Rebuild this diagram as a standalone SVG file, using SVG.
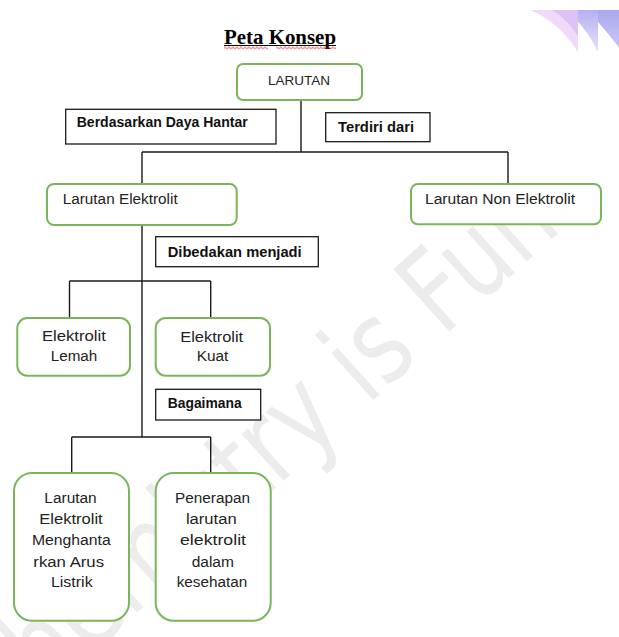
<svg xmlns="http://www.w3.org/2000/svg" width="619" height="637" viewBox="0 0 619 637">
  <style>
    .node { fill: #ffffff; stroke: #7ab55c; stroke-width: 2; }
    .label { fill: #ffffff; stroke: #1a1a1a; stroke-width: 1.3; }
    .wire { fill: none; stroke: #1a1a1a; stroke-width: 1.4; }
    .t { font-family: "Liberation Sans", Arial, sans-serif; font-size: 14px; fill: #222222; }
    .c { text-anchor: middle; }
    .b { font-weight: bold; fill: #111111; }
    .up { font-size: 13px; }
    .title { font-family: "Liberation Serif", "Times New Roman", serif; font-size: 20px; font-weight: bold; fill: #000000; }
    .mark { font-family: "DejaVu Sans", sans-serif; font-size: 115px; fill: #ececec; }
  </style>
  <defs>
    <pattern id="wave" patternUnits="userSpaceOnUse" x="0" y="45.5" width="4" height="4">
      <path d="M0,2.5 Q1,0.6 2,2.5 T4,2.5" fill="none" stroke="#e02020" stroke-width="0.9"/>
    </pattern>
    <linearGradient id="band2" x1="0" y1="0" x2="0" y2="1">
      <stop offset="0" stop-color="#b6b0f1"/>
      <stop offset="1" stop-color="#e6e2fb"/>
    </linearGradient>
    <linearGradient id="band3" x1="0" y1="0" x2="0" y2="1">
      <stop offset="0" stop-color="#aba8ef"/>
      <stop offset="1" stop-color="#c9c7f6"/>
    </linearGradient>
  </defs>

  <rect width="619" height="637" fill="#ffffff"/>

  <!-- background watermark -->
  <text class="mark" transform="translate(-1,737) rotate(-42)" textLength="760" lengthAdjust="spacingAndGlyphs">Chemistry is Fun</text>

  <!-- corner ornament -->
  <g id="corner">
    <path d="M530,10 L578,10 L578,52 C566,33 551,19 530,10 Z" fill="#f1d9f9"/>
    <path d="M552,10 L578,10 L578,36 C571,25 562,16 552,10 Z" fill="#dcc3f4"/>
    <path d="M578,10 L598,10 L598,52 C592,40 586,30 578,22 Z" fill="url(#band2)"/>
    <path d="M598,10 L619,10 L619,48 C612,38 605,30 598,22 Z" fill="url(#band3)"/>
  </g>

  <!-- title -->
  <g id="title">
    <text class="title" x="224" y="44" textLength="112" lengthAdjust="spacingAndGlyphs">Peta Konsep</text>
    <line x1="224" y1="45.5" x2="336" y2="45.5" stroke="#000000" stroke-width="1"/>
    <rect x="224" y="45.5" width="44" height="4" fill="url(#wave)"/>
    <rect x="276" y="45.5" width="60" height="4" fill="url(#wave)"/>
  </g>

  <!-- connectors -->
  <g id="connectors">
    <path class="wire" d="M301,100 V152 M142,152 H508 M142,152 V184 M508,152 V184"/>
    <path class="wire" d="M142,225 V437 M69.5,281 H210.7 M69.5,281 V318 M210.7,281 V318"/>
    <path class="wire" d="M71.7,437 H210.7 M71.7,437 V473 M210.7,437 V473"/>
  </g>

  <!-- relation labels -->
  <g id="lbl-daya-hantar">
    <rect class="label" x="65.7" y="109.3" width="210.3" height="34.7"/>
    <text class="t b" x="76.7" y="127" textLength="171" lengthAdjust="spacingAndGlyphs">Berdasarkan Daya Hantar</text>
  </g>
  <g id="lbl-terdiri">
    <rect class="label" x="325.7" y="112.7" width="104.3" height="29"/>
    <text class="t b" x="338" y="131.5" textLength="76" lengthAdjust="spacingAndGlyphs">Terdiri dari</text>
  </g>
  <g id="lbl-dibedakan">
    <rect class="label" x="155.7" y="236.7" width="162.6" height="30"/>
    <text class="t b" x="167.7" y="256.5" textLength="134" lengthAdjust="spacingAndGlyphs">Dibedakan menjadi</text>
  </g>
  <g id="lbl-bagaimana">
    <rect class="label" x="155.7" y="389.3" width="105" height="30.7"/>
    <text class="t b" x="167.7" y="408.3" textLength="74" lengthAdjust="spacingAndGlyphs">Bagaimana</text>
  </g>

  <!-- concept nodes -->
  <g id="larutan">
    <rect class="node" x="237" y="64" width="125" height="36" rx="6"/>
    <text class="t up c" x="299" y="85" textLength="62" lengthAdjust="spacingAndGlyphs">LARUTAN</text>
  </g>
  <g id="larutan-elektrolit">
    <rect class="node" x="47" y="184" width="189.7" height="41" rx="7"/>
    <text class="t" x="62.7" y="204.3" textLength="115" lengthAdjust="spacingAndGlyphs">Larutan Elektrolit</text>
  </g>
  <g id="larutan-non-elektrolit">
    <rect class="node" x="411" y="184" width="190" height="40.3" rx="7"/>
    <text class="t" x="425" y="204.3" textLength="150" lengthAdjust="spacingAndGlyphs">Larutan Non Elektrolit</text>
  </g>
  <g id="elektrolit-lemah">
    <rect class="node" x="17.3" y="318" width="112.7" height="57.7" rx="10"/>
    <text class="t c" x="73.9" y="340.5" textLength="64" lengthAdjust="spacingAndGlyphs">Elektrolit</text>
    <text class="t c" x="74" y="360.5" textLength="46.6" lengthAdjust="spacingAndGlyphs">Lemah</text>
  </g>
  <g id="elektrolit-kuat">
    <rect class="node" x="155.7" y="318" width="114.3" height="57.7" rx="10"/>
    <text class="t c" x="211.7" y="341.5" textLength="63" lengthAdjust="spacingAndGlyphs">Elektrolit</text>
    <text class="t c" x="212.5" y="361" textLength="31.7" lengthAdjust="spacingAndGlyphs">Kuat</text>
  </g>
  <g id="menghantarkan">
    <rect class="node" x="14" y="473" width="115" height="147.7" rx="18"/>
    <text class="t c" x="70.5" y="503.3" textLength="52.4" lengthAdjust="spacingAndGlyphs">Larutan</text>
    <text class="t c" x="71" y="524.3" textLength="63.4" lengthAdjust="spacingAndGlyphs">Elektrolit</text>
    <text class="t c" x="71.3" y="545.3" textLength="78.7" lengthAdjust="spacingAndGlyphs">Menghanta</text>
    <text class="t c" x="68.7" y="566.5" textLength="70.7" lengthAdjust="spacingAndGlyphs">rkan Arus</text>
    <text class="t c" x="71.8" y="586.7" textLength="41.7" lengthAdjust="spacingAndGlyphs">Listrik</text>
  </g>
  <g id="penerapan">
    <rect class="node" x="155.7" y="473" width="115" height="147.7" rx="18"/>
    <text class="t c" x="212.5" y="503.3" textLength="75" lengthAdjust="spacingAndGlyphs">Penerapan</text>
    <text class="t c" x="211.3" y="524.3" textLength="50.7" lengthAdjust="spacingAndGlyphs">larutan</text>
    <text class="t c" x="213" y="545.3" textLength="66" lengthAdjust="spacingAndGlyphs">elektrolit</text>
    <text class="t c" x="212.8" y="566.5" textLength="42.3" lengthAdjust="spacingAndGlyphs">dalam</text>
    <text class="t c" x="212" y="586.7" textLength="70.6" lengthAdjust="spacingAndGlyphs">kesehatan</text>
  </g>
</svg>
